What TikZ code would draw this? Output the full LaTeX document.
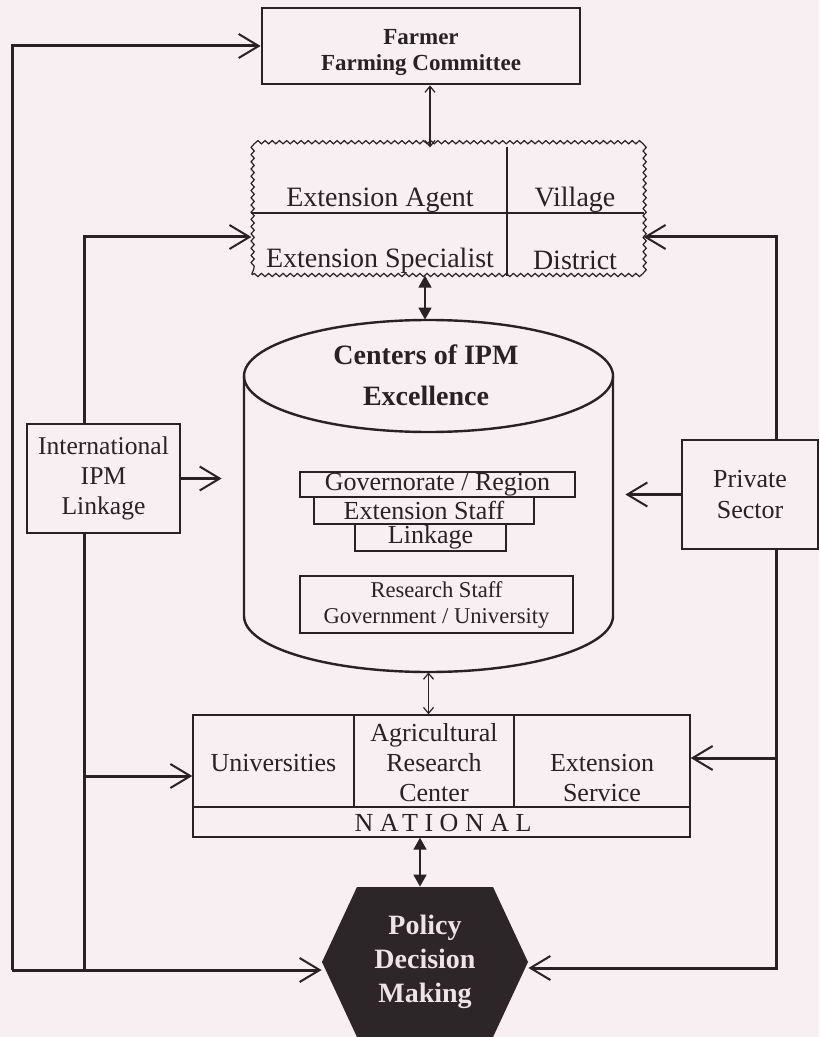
\documentclass[tikz,border=0pt]{standalone}
\usepackage{fontspec}
\setmainfont{Liberation Serif}
\usepackage{tikz}
\usetikzlibrary{arrows.meta, shapes.symbols, decorations.pathmorphing}

\definecolor{paper}{RGB}{247,239,241}
\definecolor{ink}{RGB}{40,34,36}
\definecolor{hexfill}{RGB}{45,38,40}
\definecolor{hextext}{RGB}{236,228,230}

\begin{document}
\begin{tikzpicture}[x=0.5pt, y=-0.5pt,
    every node/.style={text=ink},
    box/.style={draw=ink, line width=0.7pt, inner sep=0pt, align=center},
    thickbox/.style={draw=ink, line width=1.4pt, inner sep=0pt, align=center},
    wavybox/.style={draw=ink, line width=0.6pt, decorate,
        decoration={snake, amplitude=0.8pt, segment length=3.6pt}},
    divider/.style={draw=ink, line width=0.6pt},
    trunk/.style={draw=ink, line width=1.5pt},
    barb/.style={-{Straight Barb[length=10pt, width=12pt, line width=1pt]}},
    thinboth/.style={draw=ink, line width=0.6pt,
        {Straight Barb[length=3pt, width=5pt]}-{Straight Barb[length=3pt, width=5pt]}},
    fatboth/.style={draw=ink, line width=0.8pt,
        {Triangle[length=6pt, width=6.5pt]}-{Triangle[length=6pt, width=6.5pt]}},
    bigtext/.style={font=\fontsize{14}{15}\selectfont, inner sep=0pt},
    midtext/.style={font=\fontsize{13}{15}\selectfont, inner sep=0pt, align=center}
]
    \useasboundingbox (0,0) rectangle (819,1037);
    \fill[paper] (0,0) rectangle (819,1037);

    % Farmer
    \node[thickbox, minimum width=159pt, minimum height=38pt,
        font=\bfseries\fontsize{11.5}{13}\selectfont] (Farmer) at (421,46)
        {\rule{0pt}{14pt}Farmer\\Farming Committee};

    % Village / District level
    \node[wavybox, minimum width=195.5pt, minimum height=63.5pt] (Ext) at (447.5,211.5) {};
    \draw[divider] (Ext.west |- 0,213) -- (Ext.east |- 0,213);
    \draw[divider] (Ext.north -| 507,0) -- (Ext.south -| 507,0);
    \foreach \name/\txt/\cx/\cy in {Agent/Extension Agent/380/200, Village/Village/575/200,
        Spec/Extension Specialist/380/261, Dist/District/575/260}
        \node[bigtext] (\name) at (\cx,\cy) {\txt};

    % Centers of IPM Excellence
    \node[minimum width=184.5pt, minimum height=176pt, inner sep=0pt] (CIE) at (428.5,496) {};
    \draw[ink, line width=1.2pt] (244,376) -- (244,616)
        arc[start angle=180, end angle=360, x radius=92.25pt, y radius=28pt] -- (613,376);
    \draw[ink, line width=1.2pt] (428.5,376) ellipse [x radius=92.25pt, y radius=28pt];
    \node[font=\bfseries\fontsize{14}{20.5}\selectfont, align=center] (CIEtitle) at (426,375)
        {Centers of IPM\\Excellence};
    \foreach \name/\txt/\cx/\cy/\w/\h in {Gov/{Governorate / Region}/437.5/484.5/137.5/12.5,
        Staff/{Extension Staff}/424/510.5/110/13.5, Link/Linkage/430.5/537.5/75.5/13.5}
        \node[box, font=\fontsize{13}{14}\selectfont, minimum width=\w pt, minimum height=\h pt]
        (\name) at (\cx,\cy) {\txt};
    \node[box, font=\fontsize{11.3}{13}\selectfont, minimum width=136.5pt, minimum height=28.5pt]
        (Research) at (436.5,604.5) {Research Staff\\Government / University};

    % National level
    \node[box, minimum width=248.5pt, minimum height=61pt] (Nat) at (441.5,776) {};
    \draw[divider] (Nat.west |- 0,807) -- (Nat.east |- 0,807);
    \foreach \x in {354,514}
        \draw[divider] (Nat.north -| \x,0) -- (\x,807);
    \node[midtext] (Univ) at (273.5,763) {Universities};
    \node[midtext] (ARC) at (434,763) {Agricultural\\Research\\Center};
    \node[midtext] (ExtServ) at (602,778) {Extension\\Service};
    \node[font=\fontsize{13}{15}\selectfont\addfontfeatures{LetterSpace=25}, inner sep=0pt]
        (NatLabel) at (443,823) {NATIONAL};

    % Side boxes
    \node[box, minimum width=76.5pt, minimum height=54.5pt,
        font=\fontsize{12.8}{15}\selectfont] (Intl) at (103.5,478.5) {International\\IPM\\Linkage};
    \node[box, minimum width=68pt, minimum height=54.5pt,
        font=\fontsize{13}{15.5}\selectfont] (Priv) at (750,494.5) {Private\\Sector};

    % Policy
    \node[signal, signal to=west and east, signal pointer angle=130, fill=hexfill,
        inner sep=0pt, minimum width=103pt, minimum height=75pt, text=hextext, align=center,
        font=\bfseries\fontsize{14}{17}\selectfont] (PDM) at (425,962) {Policy\\Decision\\Making};

    % Links, left side
    \coordinate (LO) at (12,970);
    \coordinate (LI) at (84,970);
    \coordinate (CIEw) at ([xshift=-11pt]CIE.west);
    \draw[trunk, barb] (LO) |- (Farmer.west);
    \draw[trunk, barb] (LO) -- (LO -| PDM.west);
    \draw[trunk, barb] (Intl.north -| LI) |- ([yshift=-12.75pt]Ext.west);
    \draw[trunk] (Intl.south -| LI) -- (LI);
    \draw[trunk, barb] (LI |- Nat.west) -- (Nat.west);
    \draw[trunk, barb] (Intl.east) -- (CIEw |- Intl.east);

    % Links, right side
    \coordinate (RO) at (776,968);
    \coordinate (CIEe) at ([xshift=6pt]CIE.east);
    \draw[trunk, barb] (Priv.north -| RO) |- ([yshift=-12.75pt]Ext.east);
    \draw[trunk, barb] (Priv.south -| RO) -- (RO) -- (RO -| PDM.east);
    \draw[trunk, barb] (RO |- 0,758) -- (Nat.east |- 0,758);
    \draw[trunk, barb] (Priv.west) -- (CIEe |- Priv.west);

    % Links, centre column
    \draw[thinboth] (Farmer.south -| 430,0) -- (Ext.north -| 430,0);
    \draw[fatboth] (Ext.south -| 425,0) -- (CIE.north -| 425,0);
    \draw[thinboth] (CIE.south) -- (Nat.north -| CIE.south);
    \draw[fatboth] (Nat.south -| 420,0) -- (PDM.north -| 420,0);
\end{tikzpicture}
\end{document}
